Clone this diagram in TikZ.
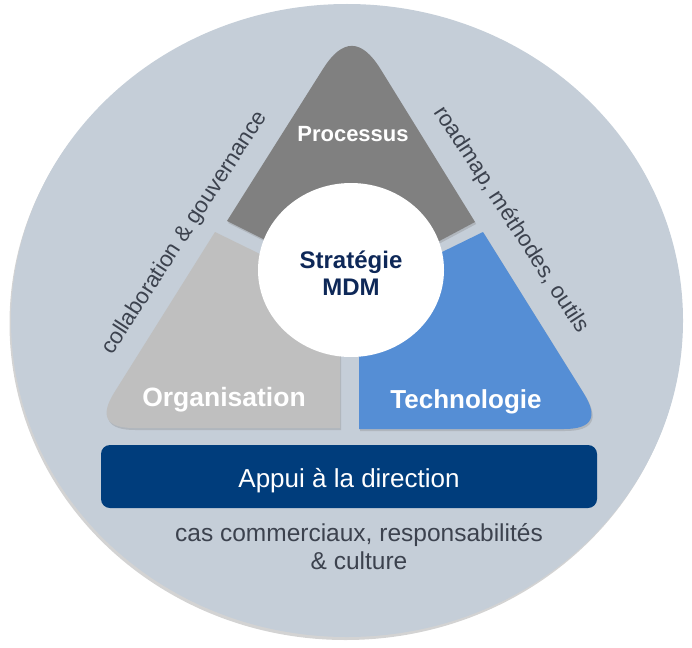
\documentclass[tikz,border=0pt]{standalone}
\usepackage{fontspec}
\setmainfont{Liberation Sans}
\usepackage{tikz}
\usetikzlibrary{calc,shadows}
\definecolor{fond}{RGB}{197,206,216}
\definecolor{gris}{RGB}{128,128,128}
\definecolor{grisclair}{RGB}{191,191,191}
\definecolor{bleutech}{RGB}{85,142,213}
\definecolor{bleuappui}{RGB}{0,61,124}
\definecolor{marine}{RGB}{14,40,88}
\definecolor{ardoise}{RGB}{60,66,78}

\begin{document}
\begin{tikzpicture}[x=1pt,y=-1pt,
    piece/.style={drop shadow={shadow xshift=1.2pt,shadow yshift=-2pt,opacity=.3}},
    titre/.style={text=white,inner sep=0pt,anchor=base,font=\bfseries\fontsize{#1}{#1}\selectfont},
    legende/.style={text=ardoise,inner sep=0pt,font=\fontsize{#1}{#1}\selectfont}]
  \useasboundingbox (0,0) rectangle (692,647);
  \fill[fond,drop shadow={shadow xshift=-1.5pt,shadow yshift=-3pt,opacity=.35}]
    (347,320.5) ellipse [x radius=336pt,y radius=316.5pt];
  \coordinate (sommet) at (352,23);
  \coordinate (pg) at (227,221);
  \coordinate (pd) at (475,222);
  \coordinate (og) at (92,428);
  \coordinate (oh) at (215,232);
  \coordinate (ob) at (340,428);
  \coordinate (td) at (606,429);
  \coordinate (th) at (483,232);
  \coordinate (tb) at (359,429);
  \coordinate (p1) at ($(sommet)!54pt!(pg)$);
  \coordinate (p2) at ($(sommet)!54pt!(pd)$);
  \coordinate (o1) at ($(og)!42pt!(oh)$);
  \coordinate (o2) at ($(og)!42pt!(ob)$);
  \coordinate (t1) at ($(td)!42pt!(tb)$);
  \coordinate (t2) at ($(td)!42pt!(th)$);
  \fill[gris,piece] (pg) -- (p1) .. controls ($(p1)!.667!(sommet)$) and ($(p2)!.667!(sommet)$) .. (p2)
    -- (pd) -- (385,270) -- (317,266) -- cycle;
  \fill[grisclair,piece] (oh) -- (o1) .. controls ($(o1)!.667!(og)$) and ($(o2)!.667!(og)$) .. (o2)
    -- (ob) -- (340,300) -- (305,276) -- cycle;
  \fill[bleutech,piece] (th) -- (393,276) -- (359,300) -- (tb)
    -- (t1) .. controls ($(t1)!.667!(td)$) and ($(t2)!.667!(td)$) .. (t2) -- cycle;
  \fill[white] (351,270) ellipse [x radius=93pt,y radius=87pt];
  \fill[bleuappui,rounded corners=9pt] (101,445) rectangle (597,508);
  \node[titre=22] (processus) at (353,142) {Processus};
  \node[titre=26.5] (organisation) at (224,406) {Organisation};
  \node[titre=26] (technologie) at (466,408) {Technologie};
  \node[titre=24,text=marine] (strategie) at (351,268) {Stratégie};
  \node[titre=24,text=marine] (mdm) at (351,295) {MDM};
  \node[text=white,inner sep=0pt,anchor=base,font=\fontsize{26}{26}\selectfont] (appui) at (349,487) {Appui à la direction};
  \node[legende=24.5,anchor=base] (cas) at (359,541) {cas commerciaux, responsabilités};
  \node[legende=24.5,anchor=base] (culture) at (359,569) {\& culture};
  \node[legende=22.5,rotate=57] (collab) at (185,233) {collaboration \& gouvernance};
  \node[legende=22.5,rotate=-57] (roadmap) at (511,220) {roadmap, méthodes, outils};
\end{tikzpicture}
\end{document}
